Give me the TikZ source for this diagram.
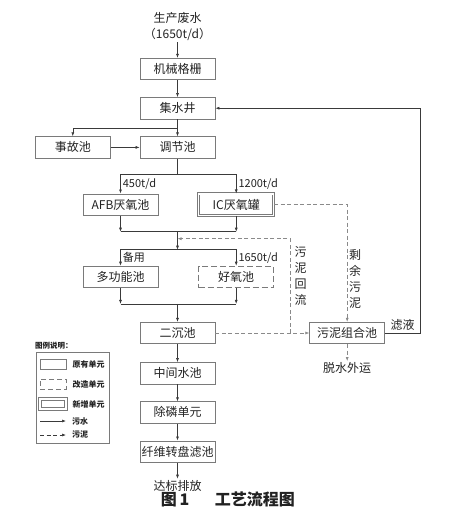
\documentclass[tikz,border=0pt]{standalone}
\usepackage{fontspec}
\setmainfont{Noto Sans CJK SC}
\usepackage{xcolor}
\definecolor{inkDark}{HTML}{222222}
\definecolor{lineDark}{HTML}{3A3A3A}
\definecolor{boxGray}{HTML}{7A7A7A}
\definecolor{dashGray}{HTML}{8A8A8A}
\usepackage{tikz}
\usetikzlibrary{positioning,calc,arrows.meta}
\tikzset{%
  unitBox/.style={%
    rectangle,
    draw=boxGray,
    line width=0.7pt,
    minimum width=75pt,
    minimum height=21.5pt,
    inner sep=0pt,
    text=inkDark,
    font=\fontsize{12}{14}\selectfont
  },
  modBox/.style={%
    unitBox,
    dash pattern=on 6pt off 3pt
  },
  newBox/.style={%
    unitBox,
    line width=0.8pt,
    double=white,
    double distance=1.4pt
  },
  plainText/.style={%
    inner sep=1pt,
    text=inkDark,
    font=\fontsize{12}{16}\selectfont
  },
  rateText/.style={%
    anchor=west,
    inner sep=2pt,
    text=inkDark,
    font=\fontsize{11}{13}\selectfont
  },
  vertText/.style={%
    align=center,
    anchor=west,
    text=inkDark,
    font=\fontsize{12}{16}\selectfont
  },
  flowLine/.style={%
    line width=0.6pt,
    draw=lineDark
  },
  flowArrow/.style={%
    -{Latex[length=4pt,width=3pt]},
    line width=0.6pt,
    draw=lineDark
  },
  sludgeArrow/.style={%
    -{Latex[length=4pt,width=3pt]},
    line width=0.6pt,
    draw=dashGray,
    dash pattern=on 4pt off 2.5pt
  },
  lgSample/.style={%
    rectangle,
    draw=boxGray,
    line width=0.6pt,
    minimum width=26pt,
    minimum height=10pt,
    inner sep=0pt
  },
  lgText/.style={%
    inner sep=0pt,
    text=inkDark,
    font=\fontsize{8}{9}\selectfont\bfseries
  }
}

\begin{document}
\begin{tikzpicture}[x=1pt,y=-1pt]
  \useasboundingbox (0,0) rectangle (452,515);

  % main column
  \node[plainText, align=center] (raw) at (177.5,27) {生产废水\\（1650t/d）};
  \node[unitBox] (gate) at (177.5,69) {机械格栅};
  \node[unitBox, below=17pt of gate] (well) {集水井};
  \node[unitBox, below=17pt of well] (adjust) {调节池};
  \node[unitBox, left=29pt of adjust] (accident) {事故池};
  \node[unitBox, below=35pt of adjust, xshift=-57pt] (afb) {AFB厌氧池};
  \node[newBox, right=40pt of afb] (ic) {IC厌氧罐};
  \node[unitBox, below=50pt of afb] (multi) {多功能池};
  \node[modBox, right=40pt of multi] (oxic) {好氧池};
  \node[unitBox, below=34pt of multi, xshift=57pt] (settle) {二沉池};
  \node[unitBox, right=94pt of settle] (sludge) {污泥组合池};
  \node[unitBox, below=18pt of settle] (mid) {中间水池};
  \node[unitBox, below=17pt of mid] (phos) {除磷单元};
  \node[unitBox, below=17pt of phos] (filter) {纤维转盘滤池};
  \node[plainText, below=16pt of filter] (out) {达标排放};
  \node[plainText, below=17pt of sludge] (dewater) {脱水外运};

  % junctions
  \coordinate (splitA) at ($(well.south)!0.5!(adjust.north)$);
  \coordinate (splitB) at ($(adjust.south)+(0,16)$);
  \coordinate (joinA) at ($(afb.south)+(57,16)$);
  \coordinate (backIn) at ($(joinA)+(0,7)$);
  \coordinate (splitC) at ($(joinA)+(0,18)$);
  \coordinate (joinB) at ($(multi.south)+(57,16)$);
  \coordinate (backTurn) at ($(settle.east)+(75,0)$);
  \coordinate (filtrTurn) at ($(sludge.east)+(35,0)$);

  % water
  \draw[flowArrow] (raw) -- (gate);
  \draw[flowArrow] (gate) -- (well);
  \draw[flowArrow] (well) -- (adjust);
  \draw[flowArrow] (splitA) -| (accident);
  \draw[flowArrow] (accident) -- (adjust);
  \draw[flowLine] (adjust) -- (splitB);
  \draw[flowArrow] (splitB) -| node[rateText, pos=0.75] {450t/d} (afb);
  \draw[flowArrow] (splitB) -| node[rateText, pos=0.75] {1200t/d} (ic);
  \draw[flowArrow] (afb) -- (afb |- joinA);
  \draw[flowArrow] (ic) -- (ic |- joinA);
  \draw[flowLine] (afb |- joinA) -- (ic |- joinA);
  \draw[flowArrow] (joinA) -- (splitC);
  \draw[flowArrow] (splitC) -| node[rateText, pos=0.75] {备用} (multi);
  \draw[flowArrow] (splitC) -| node[rateText, pos=0.75] {1650t/d} (oxic);
  \draw[flowArrow] (multi) -- (multi |- joinB);
  \draw[flowArrow] (oxic) -- (oxic |- joinB);
  \draw[flowLine] (multi |- joinB) -- (oxic |- joinB);
  \draw[flowArrow] (joinB) -- (settle);
  \draw[flowArrow] (settle) -- (mid);
  \draw[flowArrow] (mid) -- (phos);
  \draw[flowArrow] (phos) -- (filter);
  \draw[flowArrow] (filter) -- (out);
  \draw[flowArrow] (sludge) -- node[plainText, above=1pt] {滤液} (filtrTurn) |- (well);

  % sludge
  \draw[sludgeArrow] (settle) -- (sludge);
  \draw[sludgeArrow] (backTurn) |- node[vertText, pos=0.3, inner sep=4pt] {污\\泥\\回\\流} (backIn);
  \draw[sludgeArrow] (ic) -| node[vertText, pos=0.815, inner sep=1.5pt] {剩\\余\\污\\泥} (sludge);
  \draw[sludgeArrow] (sludge) -- (dewater);

  % legend
  \node[lgText, anchor=west, font=\fontsize{7.5}{9}\selectfont\bfseries] (lgTitle) at (35,346) {图例说明：};
  \node[rectangle, draw=boxGray, line width=0.7pt, minimum width=73pt, minimum height=91pt] (lgFrame) at (72.5,397.5) {};
  \node[lgSample] (lgOld) at (53,364) {};
  \node[lgText, right=6pt of lgOld] {原有单元};
  \node[lgSample, dash pattern=on 5pt off 3pt] (lgMod) at (53,384) {};
  \node[lgText, right=6pt of lgMod] {改造单元};
  \node[lgSample, draw=boxGray, line width=1pt, double=white, double distance=1.5pt] (lgNew) at (53,404) {};
  \node[lgText, right=6pt of lgNew] {新增单元};
  \coordinate (lgWaterA) at (40,421);
  \coordinate (lgWaterB) at (66,421);
  \draw[flowArrow] (lgWaterA) -- (lgWaterB);
  \node[lgText, right=6pt of lgWaterB] {污水};
  \coordinate (lgSludgeA) at (40,435);
  \coordinate (lgSludgeB) at (66,435);
  \draw[sludgeArrow, draw=lineDark] (lgSludgeA) -- (lgSludgeB);
  \node[lgText, right=6pt of lgSludgeB] {污泥};

  % caption
  \node[inner sep=0pt, text=inkDark, font=\fontsize{16}{18}\selectfont\bfseries] (caption) at (228,499) {图\,1\hspace{1.6em}工艺流程图};
\end{tikzpicture}
\end{document}
